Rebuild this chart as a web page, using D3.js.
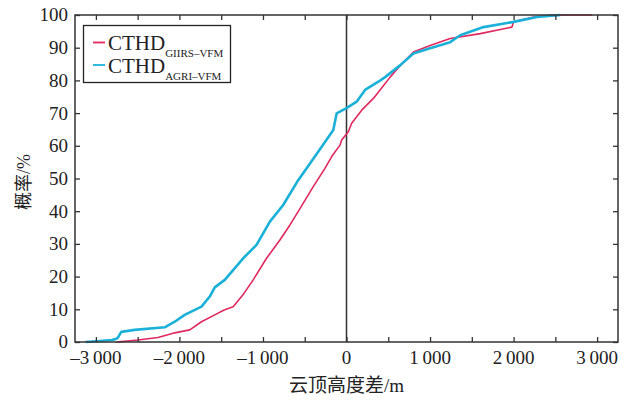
<!DOCTYPE html>
<html>
<head>
<meta charset="utf-8">
<script src="https://cdn.jsdelivr.net/npm/d3@7"></script>
<style>
  body { margin: 0; background: #fff; }
  text { font-family: "Liberation Serif", "Noto Sans CJK SC", serif; fill: #222; }
</style>
</head>
<body>
<script>
// CTHD (m) vs cumulative probability (%)
const giirsX = [-2756, -2496, -2256, -2056, -1876, -1736, -1577, -1465, -1357, -1237, -1117, -957, -797, -677, -566, -398, -258, -177, -78, -58, 22, 62, 182, 322, 402, 522, 662, 801, 1001, 1241, 1601, 1981, 2000, 2240, 2480, 2940]
const giirsY = [0, 0.6, 1.4, 2.8, 3.7, 6.2, 8.3, 9.8, 10.8, 14.5, 19, 25.6, 31.2, 35.8, 40.4, 47.5, 53.1, 56.7, 60.2, 61.8, 64.3, 66.9, 70.9, 74.5, 77.1, 81, 85.1, 88.7, 90.7, 92.8, 94.3, 96.3, 97.9, 99.4, 100, 100]

const agriX = [-3124, -2956, -2812, -2776, -2740, -2696, -2536, -2176, -2056, -1937, -1736, -1637, -1577, -1457, -1237, -1077, -917, -758, -578, -477, -297, -158, -118, 0, 122, 222, 381, 462, 641, 801, 981, 1241, 1361, 1640, 2000, 2281, 2560]
const agriY = [0, 0.3, 0.6, 0.8, 1.2, 3.1, 3.7, 4.5, 6.2, 8.3, 10.8, 13.9, 16.7, 19, 25.6, 29.7, 36.8, 41.9, 49.5, 53.1, 59.7, 64.8, 69.9, 71.5, 73.5, 77.1, 79.6, 81, 84.6, 88.2, 89.7, 91.7, 93.8, 96.3, 97.9, 99.4, 100]

const xTicks = [-3000, -2500, -2000, -1500, -1000, -500, 0, 500, 1000, 1500, 2000, 2500, 3000]
const xLabels = [-3000, -2000, -1000, 0, 1000, 2000, 3000]
const yTicks = [0, 10, 20, 30, 40, 50, 60, 70, 80, 90, 100]

const W = 634, H = 401
const margin = { top: 15, right: 16, bottom: 59, left: 75 }

const svg = d3.select('body').append('svg')
  .attr('width', W)
  .attr('height', H)

const x = d3.scaleLinear().domain([-3250, 3250]).range([margin.left, W - margin.right])
const y = d3.scaleLinear().domain([0, 100]).range([H - margin.bottom, margin.top])

const fmt = v => {
  if (v === 0) return '0'
  const s = d3.format(',')(Math.abs(v)).replace(',', '\u2009')
  return (v < 0 ? '\u2013' : '') + s
}

const series = [
  { xs: giirsX, ys: giirsY, color: '#e0285f', width: 1.6 },
  { xs: agriX, ys: agriY, color: '#1bb0d8', width: 2.6 }
]

const line = d3.line()
  .x(d => x(d[0]))
  .y(d => y(d[1]))

// zero line
svg.append('line')
  .attr('x1', x(0)).attr('x2', x(0))
  .attr('y1', y(0)).attr('y2', y(100))
  .style('stroke', '#333')
  .style('stroke-width', 1.5)

// curves (GIIRS below AGRI)
series.forEach(s => {
  svg.append('path')
    .datum(s.xs.map((v, i) => [v, s.ys[i]]))
    .attr('d', line)
    .style('fill', 'none')
    .style('stroke', s.color)
    .style('stroke-width', s.width)
    .style('stroke-linejoin', 'round')
})

// frame
svg.append('rect')
  .attr('x', x.range()[0]).attr('y', y.range()[1])
  .attr('width', x.range()[1] - x.range()[0])
  .attr('height', y.range()[0] - y.range()[1])
  .style('fill', 'none')
  .style('stroke', '#333')
  .style('stroke-width', 1.5)

// axes with inward ticks
const tickLen = 5
const axBottom = svg.append('g')
  .attr('transform', `translate(0, ${y(0)})`)
  .call(d3.axisBottom(x).tickValues(xTicks).tickSizeInner(-tickLen).tickSizeOuter(0).tickFormat(''))
const axTop = svg.append('g')
  .attr('transform', `translate(0, ${y(100)})`)
  .call(d3.axisTop(x).tickValues(xTicks).tickSizeInner(-tickLen).tickSizeOuter(0).tickFormat(''))
const axLeft = svg.append('g')
  .attr('transform', `translate(${x.range()[0]}, 0)`)
  .call(d3.axisLeft(y).tickValues(yTicks).tickSizeInner(-tickLen).tickSizeOuter(0).tickFormat(''))
const axRight = svg.append('g')
  .attr('transform', `translate(${x.range()[1]}, 0)`)
  .call(d3.axisRight(y).tickValues(yTicks).tickSizeInner(-tickLen).tickSizeOuter(0).tickFormat(''))

;[axBottom, axTop, axLeft, axRight].forEach(g => {
  g.select('.domain').remove()
  g.selectAll('line').style('stroke', '#333').style('stroke-width', 1.3)
})

// tick labels
svg.append('g').selectAll('text')
  .data(xLabels)
  .enter()
  .append('text')
  .attr('x', d => x(d))
  .attr('y', y(0) + 22)
  .attr('text-anchor', 'middle')
  .style('font-size', '19px')
  .text(fmt)

svg.append('g').selectAll('text')
  .data(yTicks)
  .enter()
  .append('text')
  .attr('x', x.range()[0] - 7)
  .attr('y', d => y(d))
  .attr('dy', '0.34em')
  .attr('text-anchor', 'end')
  .style('font-size', '19px')
  .text(d => d)

// axis titles
svg.append('text')
  .attr('x', x(0))
  .attr('y', 392)
  .attr('text-anchor', 'middle')
  .style('font-size', '19px')
  .text('云顶高度差/m')

svg.append('text')
  .attr('transform', `translate(30, ${182}) rotate(-90)`)
  .attr('text-anchor', 'middle')
  .style('font-size', '18px')
  .text('概率/%')

// legend
const legend = svg.append('g')
legend.append('rect')
  .attr('x', 83.5).attr('y', 25.5)
  .attr('width', 147).attr('height', 57)
  .style('fill', '#fff')
  .style('stroke', '#222')
  .style('stroke-width', 1.3)

const legendItems = [
  { name: 'CTHD', sub: 'GIIRS\u2013VFM', color: series[0].color },
  { name: 'CTHD', sub: 'AGRI\u2013VFM', color: series[1].color }
]
legendItems.forEach((d, i) => {
  const base = 50 + i * 22.5
  legend.append('line')
    .attr('x1', 93).attr('x2', 105)
    .attr('y1', base - 7.5).attr('y2', base - 7.5)
    .style('stroke', d.color)
    .style('stroke-width', 1.8)
  const t = legend.append('text')
    .attr('x', 108)
    .attr('y', base)
    .style('font-size', '21px')
  t.append('tspan').text(d.name)
  t.append('tspan')
    .attr('dy', 7)
    .style('font-size', '11px')
    .text(d.sub)
})
</script>
</body>
</html>
